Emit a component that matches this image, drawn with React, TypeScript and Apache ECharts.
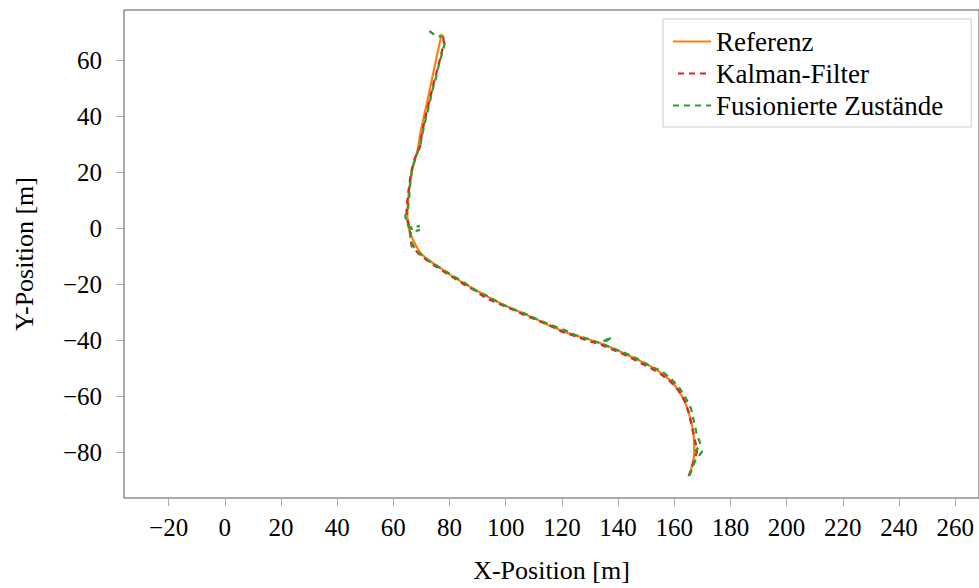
import React, { useEffect, useRef } from "react";
import * as echarts from "echarts";

const xTicks = [-20, 0, 20, 40, 60, 80, 100, 120, 140, 160, 180, 200, 220, 240, 260];
const yTicks = [-80, -60, -40, -20, 0, 20, 40, 60];

const seriesNames = ["Referenz", "Kalman-Filter", "Fusionierte Zustände"];

const referenz: number[][] = [
  [77.2, 69.6], [74.5, 57], [72, 45], [69.8, 35], [68.6, 28], [67.2, 23], [66.2, 18],
  [65.2, 10], [65.0, 4], [65.5, 0], [67.2, -4.5], [70.1, -9.2], [75.4, -13.3],
  [85.4, -19.8], [97.2, -26.3], [109, -31.6], [120.8, -36.9], [133.8, -41.1],
  [146.8, -46.9], [156.2, -52.3], [162.1, -58.8], [165.1, -65.8], [166.9, -74.1],
  [167.1, -80], [165.1, -88.6],
];

const kalman: number[][] = [
  [77.5, 70.0], [78.0, 66.5], [77.2, 63], [76.0, 58], [74.6, 53], [73.4, 48], [72.2, 43],
  [71.0, 38], [70.0, 33], [69.4, 29], [67.6, 25], [66.3, 20], [65.6, 15], [65.0, 10],
  [64.7, 6], [65.0, 3], [65.8, 0.5], [66.0, -3], [66.6, -6.5], [69.3, -9.3], [72.5, -11.8],
  [76, -14.2], [80, -16.7], [84.5, -19.6], [89, -22.2], [93, -24.9], [97.5, -26.9],
  [102, -28.8], [106.5, -30.9], [111, -32.7], [115.5, -34.6], [120, -36.9], [124.5, -38.4],
  [129, -40.1], [133.5, -41.4], [138, -43.3], [142.5, -45.2], [147, -47.6], [151, -49.6],
  [155, -51.9], [158.5, -54.6], [161.5, -57.9], [163.8, -61.8], [165.2, -66], [166.2, -70.5],
  [167.2, -75], [168.2, -79.5], [167, -83], [166, -86.5], [165.2, -88.5],
];

const fusion: number[][] = [
  [72.8, 70.6], [75.2, 68.8], [77.8, 68.6], [78.3, 66.2], [77.6, 63.5], [76.3, 59],
  [75.2, 54], [73.8, 49], [72.8, 44.5], [71.5, 39], [70.5, 34.5], [69.6, 30], [68.2, 26],
  [66.6, 21], [66.0, 16], [65.6, 11], [65.2, 7], [64.2, 4.5], [64.8, 2], [65.6, 0.4],
  [69.4, 0.9], [65.8, 0.0], [69.4, -0.6], [66.2, -1.2], [66.0, -2.8], [66.5, -5],
  [67.8, -7.5], [70, -9.5], [73, -11.8], [76.5, -14], [80.5, -16.5], [85, -19.2],
  [89.5, -22.3], [93.5, -24.2], [98, -26.8], [102.5, -28.8], [107, -30.5], [111.5, -32.6],
  [116, -34.5], [120.5, -36.2], [125, -38.2], [129.5, -39.6], [133.5, -41], [137.8, -38.8],
  [134.5, -41.3], [139, -43.2], [143.5, -45], [148, -47.2], [152, -49.5], [155.5, -51],
  [158.5, -53.5], [161.5, -56.5], [164, -60.5], [166, -64.5], [167, -69], [168, -73.5],
  [169.5, -77.5], [167.5, -79.5], [170, -79.7], [167.5, -83], [166.3, -86], [165.5, -88.3],
];

const FONT = "Liberation Serif";
const fmt = (v: number) => (v < 0 ? "\u2212" + Math.abs(v) : String(v));

export default function App() {
  const ref = useRef<HTMLDivElement>(null);
  useEffect(() => {
    if (!ref.current) return;
    const chart = echarts.init(ref.current, undefined, { renderer: "svg" });
    chart.setOption({
      animation: false,
      backgroundColor: "#fff",
      textStyle: { fontFamily: FONT },
      grid: {
        left: 124,
        top: 10,
        width: 860,
        height: 493,
        show: true,
        borderColor: "#555",
        borderWidth: 1,
        backgroundColor: "transparent",
      },
      legend: {
        data: seriesNames,
        orient: "vertical",
        left: 663,
        top: 19,
        padding: [9, 28, 8, 9],
        itemWidth: 38,
        itemHeight: 14,
        itemGap: 5,
        borderColor: "#ccc",
        borderWidth: 1,
        backgroundColor: "#fff",
        itemStyle: { opacity: 0 },
        textStyle: { fontFamily: FONT, fontSize: 27, color: "#000", lineHeight: 26 },
      },
      xAxis: {
        type: "value",
        min: -35.9,
        max: 268.5,
        name: "X-Position [m]",
        nameLocation: "middle",
        nameGap: 59,
        nameTextStyle: { fontFamily: FONT, fontSize: 26, color: "#000" },
        axisLine: { show: false, onZero: false },
        splitLine: { show: false },
        axisTick: {
          show: true,
          inside: false,
          length: 8,
          lineStyle: { color: "#aaa", width: 1 },
          customValues: xTicks,
        },
        axisLabel: {
          customValues: xTicks,
          formatter: fmt,
          margin: 17,
          fontFamily: FONT,
          fontSize: 25,
          color: "#000",
        },
      },
      yAxis: {
        type: "value",
        min: -96.4,
        max: 78.1,
        name: "Y-Position [m]",
        nameLocation: "middle",
        nameGap: 87,
        nameTextStyle: { fontFamily: FONT, fontSize: 26, color: "#000" },
        axisLine: { show: false, onZero: false },
        splitLine: { show: false },
        axisTick: {
          show: true,
          inside: false,
          length: 8,
          lineStyle: { color: "#aaa", width: 1 },
          customValues: yTicks,
        },
        axisLabel: {
          customValues: yTicks,
          formatter: fmt,
          margin: 22,
          fontFamily: FONT,
          fontSize: 25,
          color: "#000",
        },
      },
      series: [
        {
          name: seriesNames[0],
          type: "line",
          data: referenz,
          smooth: 0.4,
          showSymbol: false,
          symbol: "none",
          lineStyle: { color: "#ff7f0e", width: 2.2 },
          itemStyle: { color: "#ff7f0e", opacity: 0 },
        },
        {
          name: seriesNames[1],
          type: "line",
          data: kalman,
          showSymbol: false,
          symbol: "none",
          lineStyle: { color: "#e0202a", width: 2.3, type: [6, 5], dashOffset: 5.5 },
          itemStyle: { color: "#e0202a", opacity: 0 },
        },
        {
          name: seriesNames[2],
          type: "line",
          data: fusion,
          showSymbol: false,
          symbol: "none",
          lineStyle: { color: "#2ca02c", width: 2.3, type: [6, 5] },
          itemStyle: { color: "#2ca02c", opacity: 0 },
        },
      ],
    });
    return () => chart.dispose();
  }, []);
  return (
    <div
      ref={ref}
      style={{ position: "fixed", left: 0, top: 0, width: 979, height: 588, overflow: "hidden" }}
    />
  );
}
